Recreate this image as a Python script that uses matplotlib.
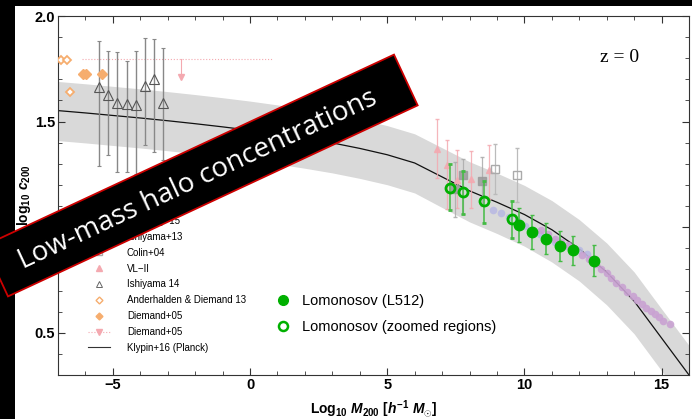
import matplotlib.pyplot as plt
import numpy as np
from matplotlib.lines import Line2D
from matplotlib.patches import Polygon, Rectangle
from matplotlib.ticker import MultipleLocator

plt.rcParams['font.family'] = ['Liberation Sans', 'DejaVu Sans']
plt.rcParams['mathtext.fontset'] = 'custom'
plt.rcParams['mathtext.rm'] = 'Liberation Sans:bold'
plt.rcParams['mathtext.it'] = 'Liberation Sans:bold:italic'
plt.rcParams['mathtext.bf'] = 'Liberation Sans:bold'

# Klypin+16 (Planck) relation and its scatter band
fit_x = np.arange(-7, 17)
fit_y = np.array([1.552, 1.541, 1.529, 1.517, 1.504, 1.490, 1.475, 1.459, 1.441, 1.421,
                  1.399, 1.373, 1.343, 1.304, 1.238, 1.172, 1.118, 1.060, 0.988, 0.898,
                  0.787, 0.650, 0.475, 0.300])
band_hi = np.array([1.690, 1.679, 1.667, 1.655, 1.642, 1.628, 1.613, 1.597, 1.579, 1.559,
                    1.537, 1.511, 1.481, 1.442, 1.376, 1.310, 1.256, 1.198, 1.126, 1.036,
                    0.925, 0.788, 0.613, 0.440])
band_lo = np.array([1.410, 1.399, 1.387, 1.375, 1.362, 1.348, 1.333, 1.317, 1.299, 1.279,
                    1.257, 1.231, 1.201, 1.162, 1.093, 1.025, 0.970, 0.910, 0.835, 0.745,
                    0.632, 0.495, 0.320, 0.145])

# Ishiyama 14 (open triangles with error bars)
ishi14_x = [-5.51, -5.17, -4.84, -4.50, -4.17, -3.83, -3.50, -3.16]
ishi14_y = [1.664, 1.627, 1.586, 1.583, 1.579, 1.667, 1.701, 1.586]
ishi14_hi = [1.882, 1.836, 1.829, 1.785, 1.832, 1.895, 1.890, 1.848]
ishi14_lo = [1.289, 1.344, 1.263, 1.261, 1.250, 1.388, 1.357, 1.320]

# Anderhalden & Diemand 13 (open diamonds)
and13_x = [-6.90, -6.69, -6.57]
and13_y = [1.792, 1.790, 1.640]

# Diemand+05 (filled diamonds)
die05_x = [-6.10, -5.98, -5.41]
die05_y = [1.726, 1.726, 1.726]

# Diemand+05 (dotted range with upper limit)
die05_range_x = [-6.14, 0.85]
die05_range_y = 1.796
die05_lim_x = -2.50
die05_lim_y = 1.712

# VL-II (filled triangles with error bars)
vl2_x = [6.81, 7.18, 7.54, 8.05, 8.70]
vl2_y = [1.371, 1.294, 1.222, 1.226, 1.269]
vl2_hi = [1.514, 1.415, 1.365, 1.360, 1.387]
vl2_lo = [1.234, 1.085, 1.093, 1.093, 1.132]

# Ishiyama+13 (filled grey squares)
ishi13_x = [7.48, 7.76, 8.45]
ishi13_y = [1.179, 1.245, 1.217]
ishi13_hi = [1.310, 1.325, 1.333]
ishi13_lo = [1.046, 1.061, 1.098]

# Colin+04 (open grey squares)
colin_x = [8.92, 9.73]
colin_y = [1.274, 1.245]
colin_hi = [1.396, 1.373]
colin_lo = [1.156, 1.117]

# Klypin+16 (lavender) and Hellwing+15 (mauve) points
klyp_x = [8.86, 9.16, 9.45, 9.75, 10.02, 10.58, 11.13, 11.55, 11.98, 12.29]
klyp_y = [1.083, 1.066, 1.046, 1.028, 1.006, 0.970, 0.931, 0.910, 0.893, 0.873]
hell_x = [10.60, 10.85, 11.10, 11.35, 11.60, 11.85, 12.10, 12.35, 12.60, 12.80, 13.00, 13.15,
          13.35, 13.55, 13.75, 13.95, 14.10, 14.30, 14.45, 14.60, 14.75, 14.90, 15.05, 15.30]
hell_y = [0.985, 0.970, 0.945, 0.930, 0.915, 0.895, 0.870, 0.850, 0.825, 0.800, 0.783, 0.758,
          0.735, 0.715, 0.695, 0.676, 0.657, 0.637, 0.618, 0.602, 0.590, 0.574, 0.555, 0.540]

# Lomonosov (zoomed regions), open circles
lz_x = [7.28, 7.77, 8.54, 9.55]
lz_y = [1.187, 1.165, 1.123, 1.038]
lz_hi = [1.297, 1.266, 1.218, 1.124]
lz_lo = [1.080, 1.061, 1.022, 0.951]

# Lomonosov (L512), filled circles
l512_x = [9.79, 10.28, 10.79, 11.29, 11.78, 12.55]
l512_y = [1.009, 0.978, 0.943, 0.912, 0.891, 0.841]
l512_hi = [1.093, 1.057, 1.019, 0.983, 0.956, 0.915]
l512_lo = [0.928, 0.896, 0.873, 0.841, 0.821, 0.767]

orange = '#f6ad6e'
pink = '#f4a9b0'
grey = '#666666'
lav = '#b9b9e2'
mauve = '#c9a2d2'
green = '#00b000'

W, H = 692, 419
fig = plt.figure(figsize=(W / 100, H / 100), dpi=100)
ax = fig.add_axes([58 / W, 1 - 375 / H, (689 - 58) / W, (375 - 16) / H])


def yerr(y, hi, lo):
    y = np.array(y)
    return [y - np.array(lo), np.array(hi) - y]


ax.fill_between(fit_x, band_lo, band_hi, color='#d9d9d9', lw=0, zorder=1)
ax.plot(fit_x, fit_y, color='#111111', lw=0.9, zorder=2)

ax.errorbar(ishi14_x, ishi14_y, yerr=yerr(ishi14_y, ishi14_hi, ishi14_lo), fmt='^',
            mfc='none', mec='#555555', ms=7, mew=0.8, ecolor='#888888', elinewidth=1,
            capsize=1.5, zorder=4)
ax.plot(and13_x, and13_y, 'D', mfc='white', mec=orange, ms=4.5, mew=1.3, ls='none', zorder=4)
ax.plot(die05_x, die05_y, 'D', color=orange, ms=5, ls='none', zorder=4)
ax.plot(die05_range_x, [die05_range_y] * 2, ls=':', color=pink, lw=0.8, zorder=3)
ax.plot([die05_lim_x, die05_lim_x], [die05_range_y, die05_lim_y], color=pink, lw=0.8, zorder=3)
ax.plot([die05_lim_x], [die05_lim_y], 'v', color=pink, ms=5, zorder=3)

ax.errorbar(vl2_x, vl2_y, yerr=yerr(vl2_y, vl2_hi, vl2_lo), fmt='^', color=pink, ms=5,
            ecolor=pink, elinewidth=0.9, capsize=1.2, alpha=0.85, zorder=3)
ax.errorbar(ishi13_x, ishi13_y, yerr=yerr(ishi13_y, ishi13_hi, ishi13_lo), fmt='s',
            color='#9a9a9a', ms=6, ecolor='#aaaaaa', elinewidth=0.9, capsize=1.2,
            alpha=0.85, zorder=3)
ax.errorbar(colin_x, colin_y, yerr=yerr(colin_y, colin_hi, colin_lo), fmt='s', mfc='none',
            mec='#aaaaaa', ms=6, ecolor='#bbbbbb', elinewidth=0.9, capsize=1.2, zorder=3)

ax.plot(klyp_x, klyp_y, 'o', color=lav, ms=5.5, mew=0, alpha=0.9, zorder=3)
ax.plot(hell_x, hell_y, 'o', color=mauve, ms=5.5, mew=0, alpha=0.9, zorder=3)

ax.errorbar(lz_x, lz_y, yerr=yerr(lz_y, lz_hi, lz_lo), fmt='o', mfc='none', mec=green,
            mew=2, ms=6.5, ecolor='#44bb44', elinewidth=1.1, capsize=1.5, zorder=5)
ax.errorbar(l512_x, l512_y, yerr=yerr(l512_y, l512_hi, l512_lo), fmt='o', color=green,
            ms=7.5, ecolor='#44bb44', elinewidth=1.1, capsize=1.5, zorder=5)

ax.set_xlim(-7, 16)
ax.set_ylim(0.3, 2.0)
ax.xaxis.set_major_locator(MultipleLocator(5))
ax.xaxis.set_minor_locator(MultipleLocator(1))
ax.yaxis.set_major_locator(MultipleLocator(0.5))
ax.yaxis.set_minor_locator(MultipleLocator(0.1))
ax.tick_params(which='both', direction='in', top=True, right=True, color='#333333')
ax.tick_params(which='major', length=5, labelsize=10.5, pad=2)
ax.tick_params(which='minor', length=3)
for lab in ax.get_xticklabels() + ax.get_yticklabels():
    lab.set_fontweight('bold')
for sp in ax.spines.values():
    sp.set_color('#333333')

ax.set_xlabel(r'Log$_{10}$ $M_{200}$ [$h^{-1}$ $M_{\odot}$]', fontsize=10, fontweight='bold',
              labelpad=5)
ax.set_ylabel(r'log$_{10}$ $c_{200}$', fontsize=10, fontweight='bold', labelpad=1)

ax.text(0.89, 0.885, 'z = 0', transform=ax.transAxes, ha='center', va='center',
        family='Liberation Serif', fontsize=14)

handles = [
    Line2D([], [], ls='none', marker='o', color=lav, ms=4),
    Line2D([], [], ls='none', marker='o', color=mauve, ms=4),
    Line2D([], [], ls='none', marker='s', color='#9a9a9a', ms=4),
    Line2D([], [], ls='none', marker='s', mfc='none', mec='#aaaaaa', ms=4),
    Line2D([], [], ls='none', marker='^', color=pink, ms=4),
    Line2D([], [], ls='none', marker='^', mfc='none', mec='#666666', ms=4, mew=0.7),
    Line2D([], [], ls='none', marker='D', mfc='white', mec=orange, ms=3.5, mew=1),
    Line2D([], [], ls='none', marker='D', color=orange, ms=3.5),
    Line2D([], [], ls=':', color=pink, lw=0.8, marker='v', ms=4),
    Line2D([], [], color='#333333', lw=0.8),
]
labels = ['Klypin+16', 'Hellwing+15', 'Ishiyama+13', 'Colin+04', 'VL\u2212II', 'Ishiyama 14',
          'Anderhalden & Diemand 13', 'Diemand+05', 'Diemand+05', 'Klypin+16 (Planck)']
leg1 = ax.legend(handles, labels, loc='lower left', bbox_to_anchor=(0.0475, 0.062),
                 frameon=False, fontsize=7, handlelength=2.26, handletextpad=1.75,
                 labelspacing=0.6, borderpad=0, borderaxespad=0)
ax.add_artist(leg1)

handles2 = [Line2D([], [], ls='none', marker='o', color=green, ms=7),
            Line2D([], [], ls='none', marker='o', mfc='none', mec=green, mew=1.8, ms=6.5)]
ax.legend(handles2, ['Lomonosov (L512)', 'Lomonosov (zoomed regions)'], loc='lower left',
          bbox_to_anchor=(0.345, 0.115), frameon=False, fontsize=10.5, handlelength=1.0,
          handletextpad=0.8, labelspacing=0.8, borderpad=0, borderaxespad=0)

# black margins of the screenshot
fig.add_artist(Rectangle((0, 0), 15 / W, 1, transform=fig.transFigure, color='black', lw=0))
fig.add_artist(Rectangle((0, 1 - 6 / H), 1, 6 / H, transform=fig.transFigure, color='black',
                         lw=0))

# rotated banner
ang = np.deg2rad(25)
cx, cy = 201, H - 175.5
half_l, half_h = 226, 28
u = np.array([np.cos(ang), np.sin(ang)])
v = np.array([-np.sin(ang), np.cos(ang)])
c = np.array([cx, cy])
corners = [c + half_l * u + half_h * v, c + half_l * u - half_h * v,
           c - half_l * u - half_h * v, c - half_l * u + half_h * v]
corners = [(p[0] / W, p[1] / H) for p in corners]
fig.add_artist(Polygon(corners, closed=True, transform=fig.transFigure, facecolor='black',
                       edgecolor='#cc0000', lw=1.3, zorder=10))
fig.text((cx - 3) / W, (cy - 4) / H, 'Low-mass halo concentrations', rotation=25,
         rotation_mode='anchor', ha='center', va='center', family='Open Sans', color='white',
         fontsize=20, zorder=11)

fig.savefig('out.png', dpi=100)
